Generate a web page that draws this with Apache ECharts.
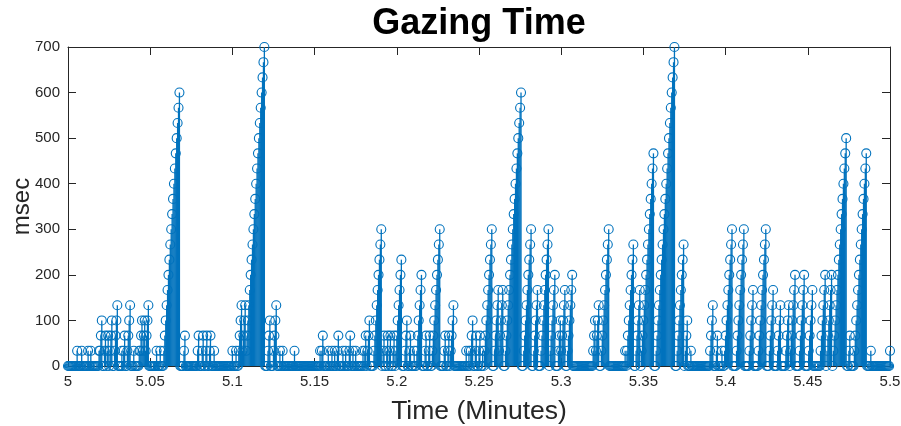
<!DOCTYPE html>
<html>
<head>
<meta charset="utf-8">
<script src="https://cdn.jsdelivr.net/npm/echarts@6/dist/echarts.min.js"></script>
<style>html,body{margin:0;padding:0;background:#fff;}#c{width:901px;height:426px;}</style>
</head>
<body>
<div id="c"></div>
<script>
// ---- data ----
// Samples are video frames at 30 fps starting at 5:00 (0..900 => 5.0..5.5 min).
// Each fixation: index of its last frame and its length in frames; gazing time climbs 1 frame per sample.
const fixEndFrame = [10,15,22,25,34,37,41,44,48,54,59,62,68,72,78,81,84,88,97,101,
  122,128,143,148,152,156,160,180,184,190,194,215,221,228,232,235,248,276,279,285,
  289,292,296,301,304,309,312,315,323,326,330,343,346,350,353,357,365,371,375,379,
  387,392,396,407,413,417,422,436,439,443,447,451,454,464,471,476,496,507,514,526,
  533,539,544,552,577,581,592,610,619,626,641,664,674,678,682,706,711,716,727,740,
  750,764,772,780,789,796,806,815,829,836,852,856,874,879,900];
const fixFrames = [1,1,1,1,1,3,2,2,3,4,1,2,4,1,1,3,3,4,1,1,
  18,2,2,2,2,2,1,1,1,4,4,21,3,4,1,1,1,1,2,1,
  1,1,2,1,1,2,1,1,1,2,3,9,2,2,2,2,7,3,2,1,
  6,2,2,9,2,2,4,1,1,3,2,2,1,9,5,5,18,9,5,9,
  6,3,5,6,3,4,9,1,8,5,14,21,8,3,1,4,2,1,9,9,
  5,9,5,4,4,6,6,5,6,6,15,2,14,1,1];
const startMinute = 5;
const framesPerMinute = 1800;
const frameMs = 1000 / 30;
const nSamples = 901;
const xTicks = [5,5.05,5.1,5.15,5.2,5.25,5.3,5.35,5.4,5.45,5.5];
const yTicks = [0,100,200,300,400,500,600,700];

// ---- build the sample series ----
const counts = new Array(nSamples).fill(0);
fixEndFrame.forEach((e, j) => {
  const n = fixFrames[j];
  for (let k = 0; k < n; k++) counts[e - k] = n - k;
});
const pts = counts.map((c, i) => [startMinute + i / framesPerMinute, c * frameMs]);
const stemPts = pts.filter(p => p[1] > 0);

const BLUE = '#0072BD';
const AX = '#262626';
const FONT = '"Liberation Sans", Arial, Helvetica, sans-serif';
const fmtX = v => String(Number(v.toFixed(2)));

const chart = echarts.init(document.getElementById('c'), null, {renderer: 'canvas'});
const baseX = {
  type: 'value', min: xTicks[0], max: xTicks[xTicks.length-1], interval: 0.05,
  axisLine: {show: true, onZero: false, lineStyle: {color: AX, width: 1}},
  axisTick: {show: true, inside: true, length: 8, lineStyle: {color: AX}},
  splitLine: {show: false}
};
const baseY = {
  type: 'value', min: yTicks[0], max: yTicks[yTicks.length-1], interval: 100,
  axisLine: {show: true, lineStyle: {color: AX, width: 1}},
  axisTick: {show: true, inside: true, length: 8, lineStyle: {color: AX}},
  splitLine: {show: false}
};
chart.setOption({
  animation: false,
  backgroundColor: '#fff',
  title: {
    text: 'Gazing Time', left: 474, top: 1, textAlign: 'center',
    textStyle: {fontFamily: FONT, fontSize: 36, fontWeight: 'bold', color: '#000'}
  },
  grid: {left: 68, right: 11, top: 47, bottom: 60, containLabel: false, outerBoundsMode: 'none'},
  xAxis: [
    Object.assign({}, baseX, {
      position: 'bottom',
      name: 'Time (Minutes)', nameLocation: 'middle', nameGap: 32,
      nameTextStyle: {fontFamily: FONT, fontSize: 26.5, color: AX},
      axisLabel: {show: true, margin: 8, fontFamily: FONT, fontSize: 15, color: AX, formatter: fmtX}
    }),
    Object.assign({}, baseX, {position: 'top', axisLabel: {show: false}})
  ],
  yAxis: [
    Object.assign({}, baseY, {
      position: 'left',
      name: 'msec', nameLocation: 'middle', nameGap: 34, nameMoveOverlap: false,
      nameTextStyle: {fontFamily: FONT, fontSize: 24, color: AX},
      axisLabel: {show: true, margin: 8, fontFamily: FONT, fontSize: 15, color: AX}
    }),
    Object.assign({}, baseY, {position: 'right', axisLabel: {show: false}})
  ],
  series: [
    {
      type: 'custom',
      xAxisIndex: 0, yAxisIndex: 0,
      data: stemPts,
      clip: false,
      renderItem: function (params, api) {
        const p0 = api.coord([api.value(0), 0]);
        const p1 = api.coord([api.value(0), api.value(1)]);
        return {type: 'line', shape: {x1: p0[0], y1: p0[1], x2: p1[0], y2: p1[1]},
          style: {stroke: BLUE, lineWidth: 1.3}};
      },
      z: 2
    },
    {
      type: 'scatter',
      xAxisIndex: 0, yAxisIndex: 0,
      data: pts,
      symbol: 'circle',
      symbolSize: 9,
      clip: false,
      progressive: 0,
      large: false,
      itemStyle: {color: 'rgba(0,0,0,0)', borderColor: BLUE, borderWidth: 1.1, opacity: 1},
      z: 3
    }
  ]
});
</script>
</body>
</html>
